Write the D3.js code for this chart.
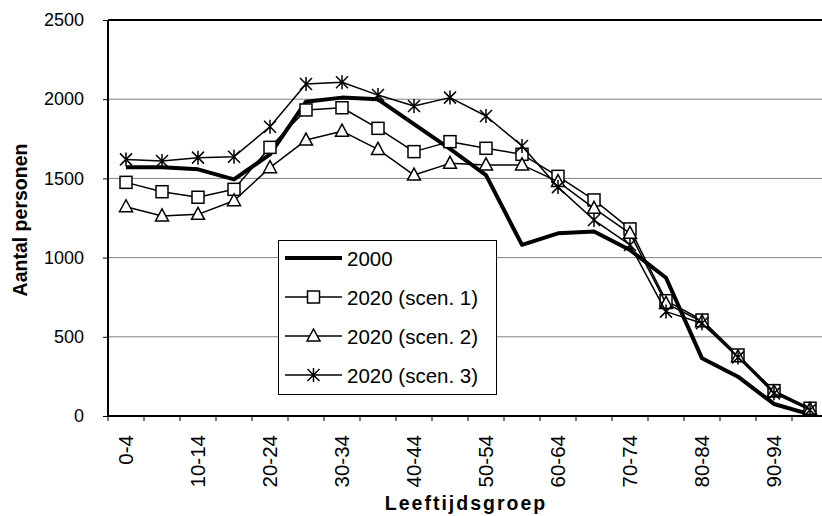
<!DOCTYPE html>
<html><head><meta charset="utf-8">
<script src="https://cdn.jsdelivr.net/npm/d3@7"></script>
<style>body{margin:0;background:#fff}svg{display:block;font-family:"Liberation Sans",Arial,sans-serif}</style>
</head><body><svg id="c" width="822" height="516"></svg>
<script>
const categories = ["0-4","5-9","10-14","15-19","20-24","25-29","30-34","35-39","40-44","45-49","50-54","55-59","60-64","65-69","70-74","75-79","80-84","85-89","90-94","95-99"];
const s2000 = [1570,1570,1557,1494,1652,1984,2010,1999,1843,1686,1521,1080,1153,1165,1048,873,364,248,76,10];
const scen1 = [1475,1416,1381,1431,1696,1932,1946,1816,1669,1732,1690,1652,1513,1364,1181,728,606,385,160,49];
const scen2 = [1321,1263,1273,1359,1568,1742,1798,1683,1521,1595,1585,1585,1480,1311,1153,711,595,374,153,42];
const scen3 = [1620,1610,1631,1637,1826,2096,2107,2026,1957,2010,1894,1705,1445,1237,1080,659,585,370,143,38];
const yTicks = [0,500,1000,1500,2000,2500];
const seriesNames = ["2000","2020 (scen. 1)","2020 (scen. 2)","2020 (scen. 3)"];

const svg = d3.select("#c");
const L = 108, R = 828, T = 20, B = 416;
const x = d3.scaleBand().domain(categories).range([L, R]).padding(0);
const y = d3.scaleLinear().domain([0, 2500]).range([B, T]);
const cx = c => x(c) + x.bandwidth() / 2;

// gridlines
svg.append("g").selectAll("line").data(yTicks.filter(v => v > 0 && v < 2500)).join("line")
  .attr("x1", L).attr("x2", R).attr("y1", d => y(d)).attr("y2", d => y(d))
  .attr("stroke", "#808080").attr("stroke-width", 1);
// top border
svg.append("line").attr("x1", L).attr("x2", R).attr("y1", y(2500)).attr("y2", y(2500)).attr("stroke", "#000").attr("stroke-width", 2);

// y axis
const yAxis = d3.axisLeft(y).tickValues(yTicks).tickSize(5).tickPadding(19).tickFormat(d3.format("d"));
const ga = svg.append("g").attr("transform", `translate(${L},0)`).call(yAxis);
ga.select(".domain").attr("stroke", "#000").attr("stroke-width", 2).attr("d", `M0,${T}V${B}`);
ga.selectAll(".tick line").attr("stroke", "#000").attr("stroke-width", 1);
ga.selectAll(".tick text").attr("font-size", 18).attr("font-family", "Liberation Sans, Arial").attr("fill", "#000");

// x axis ticks at band boundaries
const bounds = categories.map(c => x(c)).concat([R]);
svg.append("g").selectAll("line").data(bounds).join("line")
  .attr("x1", d => d).attr("x2", d => d).attr("y1", B).attr("y2", B + 5).attr("stroke", "#000").attr("stroke-width", 1);
svg.append("line").attr("x1", L - 1).attr("x2", R).attr("y1", B).attr("y2", B).attr("stroke", "#000").attr("stroke-width", 2);
svg.append("g").selectAll("text").data(categories.filter((c, i) => i % 2 === 0)).join("text")
  .attr("transform", d => `translate(${cx(d) + 6.5},435) rotate(-90)`)
  .attr("text-anchor", "end").attr("font-size", 20.5).text(d => d);

// titles
svg.append("text").attr("x", 466).attr("y", 510).attr("text-anchor", "middle")
  .attr("font-size", 19.5).attr("font-weight", "bold").attr("letter-spacing", 2).text("Leeftijdsgroep");
svg.append("text").attr("transform", "translate(26.5,220) rotate(-90)").attr("text-anchor", "middle")
  .attr("font-size", 19.5).attr("font-weight", "bold").text("Aantal personen");

// markers
function marker(g, type, px, py) {
  if (type === "square") {
    g.append("rect").attr("x", px - 6).attr("y", py - 6).attr("width", 12).attr("height", 12)
      .attr("fill", "#fff").attr("stroke", "#000").attr("stroke-width", 1.5);
  } else if (type === "triangle") {
    g.append("path").attr("d", `M${px},${py - 7}L${px + 6.5},${py + 5}L${px - 6.5},${py + 5}Z`)
      .attr("fill", "#fff").attr("stroke", "#000").attr("stroke-width", 1.5);
  } else if (type === "star") {
    g.append("path").attr("d", `M${px - 6},${py - 6}L${px + 6},${py + 6}M${px + 6},${py - 6}L${px - 6},${py + 6}M${px},${py - 7}L${px},${py + 7}`)
      .attr("stroke", "#000").attr("stroke-width", 1.5).attr("fill", "none");
  }
}

const line = d3.line().x((d, i) => cx(categories[i])).y(d => y(d));
const series = [
  {vals: s2000, w: 4, m: null},
  {vals: scen1, w: 1.5, m: "square"},
  {vals: scen2, w: 1.5, m: "triangle"},
  {vals: scen3, w: 1.5, m: "star"}
];
series.forEach(s => {
  const g = svg.append("g");
  g.append("path").datum(s.vals).attr("d", line).attr("fill", "none").attr("stroke", "#000")
    .attr("stroke-width", s.w).attr("stroke-linejoin", "round");
  if (s.m) s.vals.forEach((v, i) => marker(g, s.m, cx(categories[i]), y(v)));
});

// legend
const lg = svg.append("g");
lg.append("rect").attr("x", 278.5).attr("y", 240.5).attr("width", 218).attr("height", 154)
  .attr("fill", "#fff").attr("stroke", "#000").attr("stroke-width", 1);
seriesNames.forEach((n, i) => {
  const ry = 258 + i * 39;
  lg.append("line").attr("x1", 285).attr("x2", 342).attr("y1", ry).attr("y2", ry)
    .attr("stroke", "#000").attr("stroke-width", series[i].w);
  if (series[i].m) marker(lg, series[i].m, 313.5, ry);
  lg.append("text").attr("x", 347).attr("y", ry + 7.5).attr("font-size", 20.5).text(n);
});
</script></body></html>
